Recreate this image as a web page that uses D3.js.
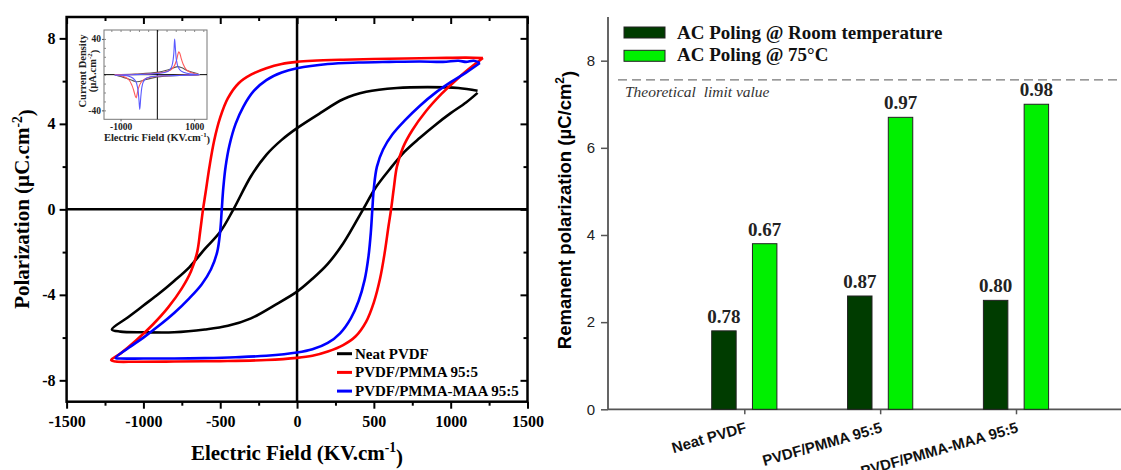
<!DOCTYPE html>
<html>
<head>
<meta charset="utf-8">
<script src="https://cdnjs.cloudflare.com/ajax/libs/d3/7.8.5/d3.min.js"></script>
<style>
  html, body { margin: 0; padding: 0; background: #fff; }
  svg { display: block; }
  .serif { font-family: "Liberation Serif", "Times New Roman", serif; font-weight: bold; }
  .sans { font-family: "Liberation Sans", Arial, sans-serif; }
</style>
</head>
<body>
<svg id="chart" width="1121" height="470"></svg>
<script>
// ---------------- DATA ----------------
// Left: P-E hysteresis loops [E (KV/cm), P (µC/cm²)]
const loopNames = ["Neat PVDF", "PVDF/PMMA 95:5", "PVDF/PMMA-MAA 95:5"];
const loopColors = ["#000000", "#ff0000", "#0000ff"];
const neatLoop = [
  [1175,5.55],[1050,5.68],[850,5.72],[650,5.68],[450,5.5],[300,5.15],[150,4.5],[0,3.8],[-100,3.25],[-200,2.55],[-300,1.55],[-414,0],
  [-500,-1.05],[-600,-1.85],[-700,-2.7],[-800,-3.35],[-900,-3.95],[-1000,-4.5],[-1100,-5.05],[-1205,-5.62],
  [-1150,-5.72],[-1000,-5.75],[-800,-5.75],[-600,-5.62],[-450,-5.45],[-300,-5.1],[-150,-4.5],[0,-3.85],[100,-3.25],[200,-2.55],[300,-1.6],[430,0],
  [510,1.0],[600,1.85],[700,2.7],[800,3.35],[900,3.95],[1000,4.5],[1100,5.0],[1175,5.45]
];
const pmmaLoop = [
  [1210,7.08],[1100,7.1],[900,7.08],[600,7.05],[300,7.0],[100,6.95],[0,6.9],[-100,6.8],[-200,6.6],[-300,6.3],[-380,5.9],[-450,5.2],[-500,4.3],[-540,3.2],[-570,2.0],[-595,0.8],[-612,0],
  [-630,-1.0],[-650,-2.0],[-690,-2.9],[-750,-3.7],[-840,-4.6],[-940,-5.4],[-1050,-6.15],[-1150,-6.75],[-1210,-7.05],
  [-1180,-7.12],[-1050,-7.13],[-800,-7.12],[-500,-7.1],[-200,-7.05],[0,-6.95],[100,-6.85],[200,-6.65],[300,-6.35],[380,-5.95],[450,-5.25],[500,-4.35],[540,-3.25],[570,-2.05],[595,-0.8],[612,0],
  [630,1.0],[650,2.0],[690,2.9],[750,3.7],[840,4.6],[940,5.4],[1050,6.15],[1150,6.75],[1210,7.08]
];
const maaLoop = [
  [1190,6.85],[1150,6.95],[1100,6.9],[1050,6.95],[950,6.9],[800,6.92],[600,6.9],[400,6.87],[200,6.8],[0,6.6],[-100,6.4],[-200,6.05],[-280,5.55],[-350,4.8],[-400,4.0],[-440,3.0],[-465,2.0],[-480,1.0],[-490,0],
  [-500,-1.0],[-520,-2.0],[-560,-2.8],[-620,-3.5],[-700,-4.15],[-800,-4.85],[-900,-5.45],[-1000,-6.0],[-1100,-6.5],[-1180,-6.95],
  [-1150,-6.98],[-1000,-6.98],[-800,-6.98],[-600,-6.96],[-400,-6.92],[-200,-6.85],[0,-6.7],[100,-6.55],[200,-6.25],[280,-5.8],[350,-5.1],[400,-4.3],[440,-3.3],[465,-2.2],[480,-1.1],[490,0],
  [500,1.0],[520,2.0],[560,2.8],[620,3.5],[700,4.15],[800,4.85],[900,5.45],[1000,5.95],[1100,6.4],[1190,6.85]
];
const xTicksMain = [-1500,-1000,-500,0,500,1000,1500];
const xTicksMinor = [-1250,-750,-250,250,750,1250];
const yTicksMain = [-8,-4,0,4,8];
const yTicksMinor = [-6,-2,2,6];

// Inset: current density loops [E (KV/cm), J (µA/cm²)]
const insetColors = ["#555555", "#ff5a5a", "#5a5aff"];
const neatCurrent = [
  [-1160,0],[-600,0.8],[0,2.5],[300,5.5],[550,9],[650,8],[850,4],[1150,0],
  [600,-0.8],[0,-2.5],[-300,-5.5],[-550,-8],[-650,-7],[-850,-4],[-1160,0]
];
const pmmaCurrent = [
  [-1160,0],[-900,0],[-600,0.3],[-300,0.8],[0,1.8],[200,3],[350,5],[450,9],[520,16],[560,23],[585,25.5],[610,24],[650,18],[700,12],[780,6],[880,3],[1000,1.2],[1150,0],
  [900,-0.3],[600,-0.8],[300,-1.2],[0,-1.8],[-200,-3],[-350,-5],[-450,-9],[-520,-16],[-555,-23],[-575,-26],[-600,-24],[-640,-18],[-690,-12],[-770,-6],[-870,-3],[-1000,-1.2],[-1160,0]
];
const maaCurrent = [
  [-1160,-0.5],[-900,-0.3],[-600,0],[-300,0.5],[0,1.2],[200,2.5],[300,4],[380,8],[420,14],[450,25],[470,40],[490,30],[520,16],[570,8],[650,4],[800,1.5],[1000,0.3],[1150,0],
  [900,-0.5],[600,-1],[300,-1.2],[0,-1.5],[-200,-2.5],[-300,-4],[-380,-8],[-420,-14],[-450,-25],[-478,-39],[-500,-28],[-530,-16],[-580,-8],[-660,-4],[-800,-1.5],[-1000,-0.5],[-1160,-0.5]
];
const insetXTicks = [-1000, 1000];
const insetYTicks = [-40, 40];

// Right: remanent polarization bars
const categories = ["Neat PVDF", "PVDF/PMMA 95:5", "PVDF/PMMA-MAA 95:5"];
const seriesNames = ["AC Poling @ Room temperature", "AC Poling @ 75°C"];
const seriesColors = ["#003c00", "#00f000"];
const roomTemp = [1.8, 2.6, 2.5];
const hot75 = [3.8, 6.7, 7.0];
const roomLabels = ["0.78", "0.87", "0.80"];
const hotLabels = ["0.67", "0.97", "0.98"];
const rightYTicks = [0, 2, 4, 6, 8];
const theoreticalLimit = 7.56;

// ---------------- DRAW ----------------
const svg = d3.select("#chart");

function supText(sel, parts) {
  parts.forEach(([t, sup], i) => {
    const ts = sel.append("tspan").text(t);
    if (sup) ts.attr("dy", "-0.55em").attr("font-size", "65%");
    else if (i > 0 && parts[i-1][1]) ts.attr("dy", "0.55em");
  });
}

// ===== Left chart =====
const xL = d3.scaleLinear().domain([-1500, 1500]).range([66.6, 527.5]);
const yL = d3.scaleLinear().domain([-9, 9]).range([401.7, 17]);
const left = svg.append("g");

function styleAxis(g, fontSize) {
  g.select(".domain").remove();
  g.selectAll("line").attr("stroke", "#000").attr("stroke-width", 2);
  g.selectAll("text").attr("class", "serif").attr("font-size", fontSize).attr("fill", "#000");
}
const fmt = d => String(d);
left.append("g").attr("transform", `translate(0,${yL(-9)})`)
  .call(d3.axisBottom(xL).tickValues(xTicksMain).tickSize(7).tickPadding(7).tickFormat(fmt))
  .call(g => styleAxis(g, 16));
left.append("g").attr("transform", `translate(0,${yL(-9)})`)
  .call(d3.axisBottom(xL).tickValues(xTicksMinor).tickSize(4).tickFormat(""))
  .call(g => styleAxis(g, 16));
left.append("g").attr("transform", `translate(0,${yL(9)})`)
  .call(d3.axisTop(xL).tickValues(xTicksMain).tickSize(-7).tickFormat(""))
  .call(g => styleAxis(g, 16));
left.append("g").attr("transform", `translate(0,${yL(9)})`)
  .call(d3.axisTop(xL).tickValues(xTicksMinor).tickSize(-4).tickFormat(""))
  .call(g => styleAxis(g, 16));
left.append("g").attr("transform", `translate(${xL(-1500)},0)`)
  .call(d3.axisLeft(yL).tickValues(yTicksMain).tickSize(7).tickPadding(4).tickFormat(fmt))
  .call(g => styleAxis(g, 16));
left.append("g").attr("transform", `translate(${xL(-1500)},0)`)
  .call(d3.axisLeft(yL).tickValues(yTicksMinor).tickSize(4).tickFormat(""))
  .call(g => styleAxis(g, 16));
left.append("g").attr("transform", `translate(${xL(1500)},0)`)
  .call(d3.axisRight(yL).tickValues(yTicksMain).tickSize(-7).tickFormat(""))
  .call(g => styleAxis(g, 16));
left.append("g").attr("transform", `translate(${xL(1500)},0)`)
  .call(d3.axisRight(yL).tickValues(yTicksMinor).tickSize(-4).tickFormat(""))
  .call(g => styleAxis(g, 16));

left.append("line").attr("x1", xL(-1500)).attr("x2", xL(1500)).attr("y1", yL(0)).attr("y2", yL(0))
  .attr("stroke", "#000").attr("stroke-width", 2.5);
left.append("line").attr("x1", xL(0)).attr("x2", xL(0)).attr("y1", yL(-9)).attr("y2", yL(9))
  .attr("stroke", "#000").attr("stroke-width", 2.5);

const loops = [neatLoop, pmmaLoop, maaLoop];
const lineL = d3.line().x(d => xL(d[0])).y(d => yL(d[1])).curve(d3.curveCatmullRom.alpha(0.5));
loops.forEach((data, i) => {
  left.append("path").attr("d", lineL(data)).attr("fill", "none")
    .attr("stroke", loopColors[i]).attr("stroke-width", 2.6).attr("stroke-linejoin", "round");
});

left.append("rect").attr("x", xL(-1500)).attr("y", yL(9))
  .attr("width", xL(1500) - xL(-1500)).attr("height", yL(-9) - yL(9))
  .attr("fill", "none").attr("stroke", "#000").attr("stroke-width", 2.5);

loopNames.forEach((name, i) => {
  const by = 358.7 + i * 18.7;
  left.append("line").attr("x1", 337).attr("x2", 352).attr("y1", by - 5).attr("y2", by - 5)
    .attr("stroke", loopColors[i]).attr("stroke-width", 3);
  left.append("text").attr("class", "serif").attr("x", 355).attr("y", by)
    .attr("font-size", 15).attr("fill", "#000").text(name);
});

supText(left.append("text").attr("class", "serif").attr("x", 297).attr("y", 460)
  .attr("text-anchor", "middle").attr("font-size", 21),
  [["Electric Field (KV.cm", false], ["-1", true], [")", false]]);
supText(left.append("text").attr("class", "serif")
  .attr("transform", "translate(29,209) rotate(-90)")
  .attr("text-anchor", "middle").attr("font-size", 21),
  [["Polarization (µC.cm", false], ["-2", true], [")", false]]);

// ===== Inset =====
const xI = d3.scaleLinear().domain([-1450, 1350]).range([104, 207]);
const yI = d3.scaleLinear().domain([-50, 50]).range([119.3, 30]);
const inset = svg.append("g");
inset.append("rect").attr("x", xI(-1450)).attr("y", yI(50))
  .attr("width", xI(1350) - xI(-1450)).attr("height", yI(-50) - yI(50))
  .attr("fill", "#fff").attr("stroke", "#777").attr("stroke-width", 1);
inset.append("g").attr("transform", `translate(0,${yI(50)})`)
  .call(d3.axisTop(xI).tickValues(d3.range(-1250, 1350, 250)).tickSize(-2).tickFormat(""))
  .call(g => { g.select(".domain").remove(); g.selectAll("line").attr("stroke", "#888"); });
inset.append("g").attr("transform", `translate(${xI(-1450)},0)`)
  .call(d3.axisLeft(yI).tickValues(d3.range(-40, 50, 10)).tickSize(-2).tickFormat(""))
  .call(g => { g.select(".domain").remove(); g.selectAll("line").attr("stroke", "#888"); });
inset.append("g").attr("transform", `translate(0,${yI(-50)})`)
  .call(d3.axisBottom(xI).tickValues(insetXTicks).tickSize(2).tickPadding(2).tickFormat(fmt))
  .call(g => { g.select(".domain").remove(); g.selectAll("line").attr("stroke", "#555");
               g.selectAll("text").attr("class", "serif").attr("font-size", 9.5).attr("fill", "#222"); });
inset.append("g").attr("transform", `translate(${xI(-1450)},0)`)
  .call(d3.axisLeft(yI).tickValues(insetYTicks).tickSize(2).tickPadding(1).tickFormat(fmt))
  .call(g => { g.select(".domain").remove(); g.selectAll("line").attr("stroke", "#555");
               g.selectAll("text").attr("class", "serif").attr("font-size", 9.5).attr("fill", "#222"); });
inset.append("line").attr("x1", xI(-1450)).attr("x2", xI(1350)).attr("y1", yI(0)).attr("y2", yI(0))
  .attr("stroke", "#000").attr("stroke-width", 1);
inset.append("line").attr("x1", xI(0)).attr("x2", xI(0)).attr("y1", yI(-50)).attr("y2", yI(50))
  .attr("stroke", "#000").attr("stroke-width", 1);
const lineI = d3.line().x(d => xI(d[0])).y(d => yI(d[1])).curve(d3.curveCatmullRom.alpha(0.5));
[neatCurrent, pmmaCurrent, maaCurrent].forEach((data, i) => {
  inset.append("path").attr("d", lineI(data)).attr("fill", "none")
    .attr("stroke", insetColors[i]).attr("stroke-width", 1.1);
});
supText(inset.append("text").attr("class", "serif").attr("x", 157).attr("y", 141)
  .attr("text-anchor", "middle").attr("font-size", 10.5).attr("fill", "#222"),
  [["Electric Field (KV.cm", false], ["-1", true], [")", false]]);
inset.append("text").attr("class", "serif").attr("transform", "translate(85.5,71) rotate(-90)")
  .attr("text-anchor", "middle").attr("font-size", 10.5).attr("fill", "#222").text("Current Density");
supText(inset.append("text").attr("class", "serif").attr("transform", "translate(96,71) rotate(-90)")
  .attr("text-anchor", "middle").attr("font-size", 10.5).attr("fill", "#222"),
  [["(µA.cm", false], ["-2", true], [")", false]]);

// ===== Right chart =====
const yR = d3.scaleLinear().domain([0, 9]).range([409.3, 17.1]);
const xR = d3.scalePoint().domain(categories).range([744.3, 1016]);
const xSub = d3.scaleBand().domain(seriesNames).range([-32.6, 32.6]).paddingInner(0.4);
const right = svg.append("g");

right.append("g").attr("transform", "translate(608,0)")
  .call(d3.axisLeft(yR).tickValues(rightYTicks).tickSize(7).tickPadding(6).tickFormat(fmt))
  .call(g => {
    g.select(".domain").attr("stroke", "#555").attr("stroke-width", 1.8).attr("d", `M0,${yR(0)}V${yR(9)}`);
    g.selectAll("line").attr("stroke", "#555").attr("stroke-width", 1.5);
    g.selectAll("text").attr("class", "sans").attr("font-size", 15).attr("fill", "#222");
  });
right.append("line").attr("x1", 608).attr("x2", 1121).attr("y1", yR(0)).attr("y2", yR(0))
  .attr("stroke", "#555").attr("stroke-width", 1.8);
right.append("g").attr("transform", `translate(0,${yR(0)})`)
  .call(d3.axisBottom(xR).tickSize(5).tickFormat(""))
  .call(g => { g.select(".domain").remove(); g.selectAll("line").attr("stroke", "#555").attr("stroke-width", 1.5); });
categories.forEach(c => {
  right.append("text").attr("class", "sans")
    .attr("transform", `translate(${xR(c) + 3},432) rotate(-16)`)
    .attr("text-anchor", "end").attr("font-size", 15).attr("font-weight", "bold").attr("fill", "#111").text(c);
});

right.append("line").attr("x1", 618).attr("x2", 1121).attr("y1", yR(theoreticalLimit)).attr("y2", yR(theoreticalLimit))
  .attr("stroke", "#777").attr("stroke-width", 1.3).attr("stroke-dasharray", "9,5");
right.append("text").attr("x", 625).attr("y", 97)
  .attr("font-family", "'Liberation Serif', serif").attr("font-style", "italic")
  .attr("font-size", 15.5).attr("fill", "#333").style("white-space", "pre")
  .text("Theoretical  limit value");

const seriesVals = [roomTemp, hot75];
const seriesLabels = [roomLabels, hotLabels];
seriesNames.forEach((s, si) => {
  categories.forEach((c, ci) => {
    const x0 = xR(c) + xSub(s);
    const v = seriesVals[si][ci];
    right.append("rect").attr("x", x0).attr("y", yR(v))
      .attr("width", xSub.bandwidth()).attr("height", yR(0) - yR(v))
      .attr("fill", seriesColors[si]).attr("stroke", "#222").attr("stroke-width", 1);
    right.append("text").attr("class", "serif")
      .attr("x", x0 + xSub.bandwidth() / 2).attr("y", yR(v) - 8)
      .attr("text-anchor", "middle").attr("font-size", 19).attr("fill", "#222")
      .text(seriesLabels[si][ci]);
  });
});

seriesNames.forEach((s, i) => {
  const ry = 27 + i * 23.3;
  right.append("rect").attr("x", 624).attr("y", ry).attr("width", 41).attr("height", 11)
    .attr("fill", seriesColors[i]).attr("stroke", "#222").attr("stroke-width", 1);
  right.append("text").attr("class", "serif").attr("x", 677).attr("y", 39 + i * 22.3)
    .attr("font-size", 19).attr("fill", "#111").text(s);
});

supText(right.append("text").attr("class", "sans").attr("font-weight", "bold")
  .attr("transform", "translate(571,210) rotate(-90)")
  .attr("text-anchor", "middle").attr("font-size", 18.5).attr("fill", "#000"),
  [["Remanent polarization (µC/cm", false], ["2", true], [")", false]]);
</script>
</body>
</html>
